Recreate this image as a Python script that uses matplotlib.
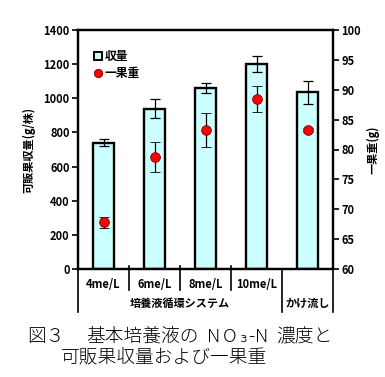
import matplotlib
matplotlib.use("Agg")
import matplotlib.pyplot as plt
from matplotlib.lines import Line2D
from matplotlib.transforms import blended_transform_factory
import numpy as np

plt.rcParams['font.family'] = ['Noto Sans CJK JP', 'DejaVu Sans']

categories = ["4me/L", "6me/L", "8me/L", "10me/L", ""]
yield_vals = [740, 940, 1060, 1200, 1035]
yield_err = [20, 55, 27, 45, 68]
weight_vals = [67.8, 78.7, 83.3, 88.5, 83.3]
weight_err = [0.9, 2.5, 2.8, 2.2, 0.3]
group_labels = ["培養液循環システム", "かけ流し"]
left_ticks = [0, 200, 400, 600, 800, 1000, 1200, 1400]
right_ticks = [60, 65, 70, 75, 80, 85, 90, 95, 100]

fig = plt.figure(figsize=(3.85, 3.77), dpi=100)
ax = fig.add_axes([78/385, 1-269/377, (333-78)/385, (269-30)/377])
ax2 = ax.twinx()

x = np.arange(len(categories))
ax.bar(x, yield_vals, width=0.42, color="#CCFFFF", edgecolor="black", linewidth=1.7, zorder=2)
ax.errorbar(x, yield_vals, yerr=yield_err, fmt="none", ecolor="black", elinewidth=0.9, capsize=3.5, capthick=0.9, zorder=3)
ax2.errorbar(x, weight_vals, yerr=weight_err, fmt="o", color="red", markersize=7,
             markeredgecolor="#800000", markeredgewidth=0.6, ecolor="black", elinewidth=0.9,
             capsize=3.5, capthick=0.9, zorder=4)

ax.set_xlim(-0.5, 4.5)
ax.set_ylim(0, 1400)
ax2.set_ylim(60, 100)
ax.set_yticks(left_ticks)
ax2.set_yticks(right_ticks)
ax.set_xticks([])
tfont = dict(fontsize=8, fontweight="bold")
ax.set_yticklabels([str(t) for t in left_ticks], **tfont)
ax2.set_yticklabels([str(t) for t in right_ticks], **tfont)
for a in (ax, ax2):
    for s in a.spines.values():
        s.set_linewidth(1.6)
ax.tick_params(axis="y", direction="out", length=4, width=1.2, pad=2)
ax2.tick_params(axis="y", direction="out", length=4, width=1.2, pad=2)

ax.set_ylabel("可販果収量(g/株)", fontsize=8, fontweight="bold", labelpad=6)
ax2.set_ylabel("一果重(g)", fontsize=8, fontweight="bold", rotation=90, labelpad=4)

# category table below axis
tr = blended_transform_factory(ax.transData, ax.transAxes)
h = 239.0
for i, c in enumerate(categories):
    ax.text(i, -(284-269)/h, c, transform=tr, ha="center", va="center", fontsize=8, fontweight="bold")
for b in [0.5, 1.5, 2.5]:
    ax.plot([b, b], [0.012, -(290-269)/h], transform=tr, color="black", lw=1.2, clip_on=False)
for b in [-0.5, 3.5, 4.5]:
    ax.plot([b, b], [0, -(312-269)/h], transform=tr, color="black", lw=1.2, clip_on=False)
ax.text(1.5, -(303-269)/h, group_labels[0], transform=tr, ha="center", va="center", fontsize=8, fontweight="bold")
ax.text(4.0, -(303-269)/h, group_labels[1], transform=tr, ha="center", va="center", fontsize=8, fontweight="bold")

handles = [Line2D([], [], marker="s", color="none", markerfacecolor="#CCFFFF", markeredgecolor="black", markeredgewidth=1.4, markersize=6),
           Line2D([], [], marker="o", color="none", markerfacecolor="red", markeredgecolor="#800000", markeredgewidth=0.6, markersize=6)]
leg = ax2.legend(handles, ["収量", "一果重"], loc="upper left", bbox_to_anchor=(0.04, 0.935), frameon=False,
                 handlelength=0.8, handletextpad=0.2, labelspacing=0.35, borderaxespad=0,
                 prop=dict(size=8.5, weight="bold"))

cap = dict(fontsize=13.5, va="center", ha="left", fontweight="light")
y1 = 1 - 337/377
y2 = 1 - 358/377
fig.text(27/385, y1, "図３", **cap)
fig.text(86/385, y1, "基本培養液の", **cap)
for ch, px in [("N", 207), ("O", 223), ("₃", 239), ("-", 248), ("N", 255)]:
    fig.text(px/385, y1, ch, **cap)
fig.text(276/385, y1, "濃度と", **cap)
fig.text(61/385, y2, "可販果収量および一果重", **cap)

fig.savefig("out.png", dpi=100)
